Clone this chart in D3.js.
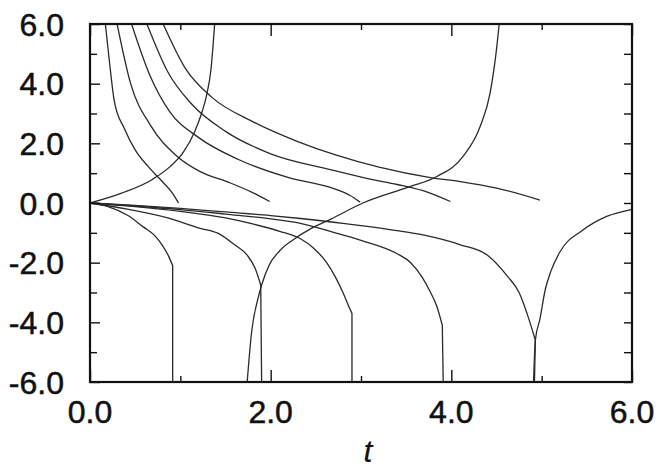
<!DOCTYPE html>
<html>
<head>
<meta charset="utf-8">
<script src="https://cdn.jsdelivr.net/npm/d3@7"></script>
<style>
  body { margin: 0; background: #fff; }
  svg { display: block; }
  .lbl { font-family: "Liberation Sans", Arial, sans-serif; font-size: 32px; fill: #111; stroke: #111; stroke-width: 0.5px; }
</style>
</head>
<body>
<div id="chart"></div>
<script>
// tick labels
const xTicks = [0, 2, 4, 6];
const yTicks = [-6, -4, -2, 0, 2, 4, 6];

// curves that fall from the top and stop near y = 0
const fallA = [[0.17, 6], [0.22, 4.6], [0.27, 3.4], [0.38, 2.5], [0.5, 1.78], [0.65, 1.2], [0.8, 0.72], [0.92, 0.3], [0.98, 0.0]];
const fallB = [[0.3, 6], [0.45, 4.0], [0.67, 2.6], [0.95, 1.6], [1.22, 1.05], [1.53, 0.7], [1.8, 0.35], [1.99, 0.05]];
const fallC = [[0.46, 6], [0.66, 4.3], [0.88, 3.07], [1.2, 2.2], [1.65, 1.45], [2.2, 0.85], [2.66, 0.52], [2.88, 0.25], [2.99, 0.03]];
const fallD = [[0.63, 6], [0.86, 4.4], [1.13, 3.3], [1.5, 2.4], [2.0, 1.65], [2.66, 1.12], [3.1, 0.8], [3.4, 0.62], [3.75, 0.35], [3.99, 0.05]];
const fallE = [[0.81, 6], [1.05, 4.54], [1.35, 3.54], [1.8, 2.73], [2.3, 2.06], [2.71, 1.62], [3.2, 1.2], [3.77, 0.85], [4.1, 0.72], [4.5, 0.5], [4.98, 0.1]];

// curves that leave the origin downward and then drop (last point)
const dropA = [[0, 0], [0.2, -0.12], [0.42, -0.42], [0.59, -0.8], [0.72, -1.1], [0.81, -1.46], [0.87, -1.78], [0.915, -2.1], [0.915, -6]];
const dropB = [[0, 0], [0.4, -0.2], [0.86, -0.5], [1.22, -0.85], [1.42, -1.02], [1.6, -1.4], [1.74, -1.75], [1.83, -2.2], [1.89, -2.75], [1.9, -6]];
const dropC = [[0, 0], [0.5, -0.12], [1.0, -0.28], [1.5, -0.5], [1.8, -0.7], [2.1, -0.95], [2.33, -1.2], [2.47, -1.5], [2.62, -2.0], [2.72, -2.5], [2.8, -3.0], [2.87, -3.5], [2.9, -3.7], [2.9, -6]];
const dropD = [[0, 0], [0.5, -0.1], [1.0, -0.22], [1.5, -0.37], [2.0, -0.53], [2.33, -0.68], [2.66, -0.95], [3.0, -1.25], [3.4, -1.7], [3.55, -2.0], [3.68, -2.5], [3.77, -3.0], [3.84, -3.47], [3.9, -4.1], [3.91, -6]];
const dropE = [[0, 0], [0.5, -0.08], [1.0, -0.18], [1.5, -0.3], [2.0, -0.42], [2.33, -0.52], [2.8, -0.68], [3.32, -0.89], [3.7, -1.08], [4.1, -1.4], [4.4, -1.75], [4.62, -2.45], [4.75, -3.0], [4.87, -4.0], [4.93, -4.6], [4.92, -6]];

// rising curves
const riseA = [[0, 0], [0.35, 0.33], [0.69, 0.79], [0.886, 1.22], [1.03, 1.69], [1.16, 2.4], [1.24, 3.05], [1.29, 3.6], [1.34, 4.5], [1.38, 6]];
const riseB = [[1.74, -6], [1.79, -4.3], [1.86, -3.2], [1.9, -2.75], [1.98, -2.1], [2.1, -1.6], [2.25, -1.23], [2.45, -0.85], [2.66, -0.55], [3.02, 0], [3.54, 0.55], [3.84, 0.89], [4.13, 1.56], [4.32, 2.57], [4.43, 3.7], [4.5, 5.15], [4.53, 6]];
const riseC = [[4.91, -6], [4.93, -4.6], [4.98, -3.9], [5.04, -2.9], [5.1, -2.3], [5.2, -1.65], [5.46, -0.9], [5.72, -0.45], [5.99, -0.22]];

const falls = [fallA, fallB, fallC, fallD, fallE];
const drops = [dropA, dropB, dropC, dropD, dropE];
const rises = [riseA, riseB, riseC];

const width = 659, height = 470;
const margin = { left: 90, right: 27, top: 24, bottom: 88 };

const svg = d3.select('#chart')
  .append('svg')
  .attr('width', width)
  .attr('height', height);

const x = d3.scaleLinear().domain([0, 6]).range([margin.left, width - margin.right]);
const y = d3.scaleLinear().domain([-6, 6]).range([height - margin.bottom, margin.top]);

const line = d3.line()
  .x(d => x(d[0]))
  .y(d => y(d[1]))
  .curve(d3.curveMonotoneX);

// clip to the frame
svg.append('clipPath').attr('id', 'clip')
  .append('rect')
  .attr('x', x(0)).attr('y', y(6))
  .attr('width', x(6) - x(0)).attr('height', y(-6) - y(6));
const plot = svg.append('g').attr('clip-path', 'url(#clip)');

const curveStyle = sel => sel
  .attr('fill', 'none')
  .attr('stroke', '#2a2a2a')
  .attr('stroke-width', 1.3);

plot.selectAll('.smooth')
  .data(falls.concat(rises))
  .enter().append('path')
  .attr('d', d => line(d))
  .call(curveStyle);

// curved part of each drop, then its vertical end
plot.selectAll('.drop')
  .data(drops)
  .enter().append('path')
  .attr('d', d => {
    const end = d[d.length - 1];
    return line(d.slice(0, -1)) + `L${x(end[0])},${y(end[1])}`;
  })
  .call(curveStyle);

// axes: ticks pointing inward on all four sides
const majorX = [0, 2, 4, 6], minorX = [1, 3, 5];
const ticksY = d3.range(-6, 7, 1);

const axBottom = svg.append('g').attr('transform', `translate(0,${y(-6)})`)
  .call(d3.axisBottom(x).tickValues(majorX).tickSizeInner(-12).tickSizeOuter(0).tickFormat(''));
const axBottomMinor = svg.append('g').attr('transform', `translate(0,${y(-6)})`)
  .call(d3.axisBottom(x).tickValues(minorX).tickSizeInner(-6).tickSizeOuter(0).tickFormat(''));
const axTop = svg.append('g').attr('transform', `translate(0,${y(6)})`)
  .call(d3.axisTop(x).tickValues(majorX).tickSizeInner(-12).tickSizeOuter(0).tickFormat(''));
const axTopMinor = svg.append('g').attr('transform', `translate(0,${y(6)})`)
  .call(d3.axisTop(x).tickValues(minorX).tickSizeInner(-6).tickSizeOuter(0).tickFormat(''));
const axLeft = svg.append('g').attr('transform', `translate(${x(0)},0)`)
  .call(d3.axisLeft(y).tickValues(ticksY).tickSizeInner(-8).tickSizeOuter(0).tickFormat(''));
axLeft.selectAll('.tick line').attr('x2', d => d % 2 === 0 ? 10 : 7);
const axRight = svg.append('g').attr('transform', `translate(${x(6)},0)`)
  .call(d3.axisRight(y).tickValues(ticksY).tickSizeInner(-8).tickSizeOuter(0).tickFormat(''));

[axBottom, axBottomMinor, axTop, axTopMinor, axLeft, axRight].forEach(g => {
  g.select('.domain').remove();
  g.selectAll('.tick line').attr('stroke', '#111').attr('stroke-width', 1.4);
});

// frame
svg.append('rect')
  .attr('x', x(0)).attr('y', y(6))
  .attr('width', x(6) - x(0)).attr('height', y(-6) - y(6))
  .attr('fill', 'none')
  .attr('stroke', '#111')
  .attr('stroke-width', 2.2);

// tick labels
svg.selectAll('.ylbl')
  .data(yTicks)
  .enter().append('text')
  .attr('class', 'lbl')
  .attr('x', x(0) - 26)
  .attr('y', d => y(d))
  .attr('dy', '0.36em')
  .attr('text-anchor', 'end')
  .text(d => d.toFixed(1));

svg.selectAll('.xlbl')
  .data(xTicks)
  .enter().append('text')
  .attr('class', 'lbl')
  .attr('x', d => x(d))
  .attr('y', y(-6) + 41)
  .attr('text-anchor', 'middle')
  .text(d => d.toFixed(1));

// axis title
svg.append('text')
  .attr('class', 'lbl')
  .attr('x', 368)
  .attr('y', 462)
  .attr('text-anchor', 'middle')
  .style('font-style', 'italic')
  .style('stroke-width', '0.2px')
  .text('t');
</script>
</body>
</html>
